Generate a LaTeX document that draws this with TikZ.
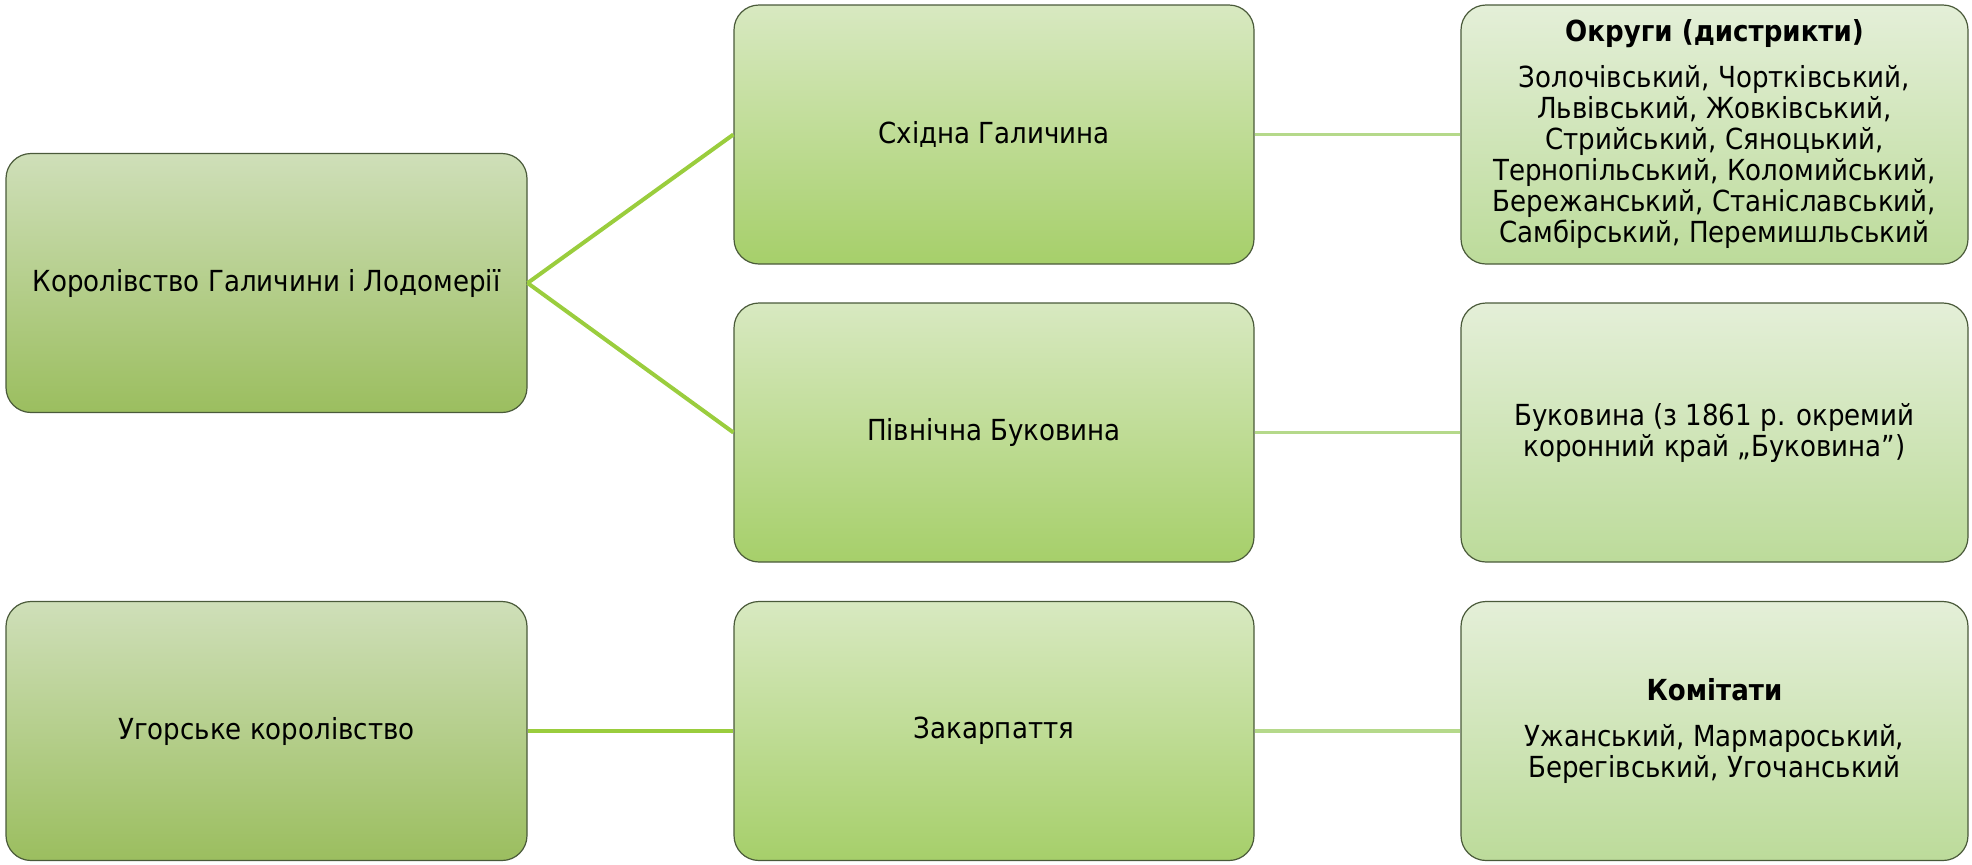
\documentclass[tikz,border=0pt]{standalone}
\usepackage{fontspec}
\setmainfont{DejaVu Sans}[FakeStretch=0.9]
\definecolor{lTop}{HTML}{CFDFB9}
\definecolor{lBot}{HTML}{9BBE5F}
\definecolor{mTop}{HTML}{D8E9C1}
\definecolor{mBot}{HTML}{A6CF6A}
\definecolor{rTop}{HTML}{E4EFD8}
\definecolor{rBot}{HTML}{BCDB9A}
\definecolor{edge}{HTML}{4A5A3A}
\definecolor{conA}{HTML}{9ACD3D}
\definecolor{conB}{HTML}{B5D98A}
\tikzset{
  box/.style={draw=edge, line width=0.6pt, rounded corners=12.5pt, align=center,
    minimum height=129.5pt, inner sep=0pt,
    font=\fontsize{14.5}{15.5}\selectfont},
  lbox/.style={box, minimum width=260.5pt, top color=lTop, bottom color=lBot},
  mbox/.style={box, minimum width=260pt, top color=mTop, bottom color=mBot},
  rbox/.style={box, minimum width=253.5pt, top color=rTop, bottom color=rBot},
  conn/.style={line width=2pt, conA},
  connlight/.style={line width=1.8pt, conB}
}
\begin{document}
\begin{tikzpicture}[x=0.5pt, y=-0.5pt]
\useasboundingbox (0,0) rectangle (1972,864);
\node[lbox] (A) at (266.5,283) {Королівство Галичини і Лодомерії};
\node[mbox] (B) at (994,134.5) {Східна Галичина};
\node[rbox] (C) at (1714.5,134.5) {\textbf{Округи (дистрикти)}\\[7.5pt]Золочівський, Чортківський,\\Львівський, Жовківський,\\Стрийський, Сяноцький,\\Тернопільський, Коломийський,\\Бережанський, Станіславський,\\Самбірський, Перемишльський};
\node[mbox] (D) at (994,432.5) {Північна Буковина};
\node[rbox] (E) at (1714.5,432.5) {Буковина (з 1861 р. окремий\\коронний край „Буковина”)};
\node[lbox] (F) at (266.5,731) {Угорське королівство};
\node[mbox] (G) at (994,731) {Закарпаття};
\node[rbox] (H) at (1714.5,731) {\textbf{Комітати}\\[7.5pt]Ужанський, Мармароський,\\Берегівський, Угочанський};
\draw[conn] (A.east) -- (B.west);
\draw[conn] (A.east) -- (D.west);
\draw[connlight] (B.east) -- (C.west);
\draw[connlight] (D.east) -- (E.west);
\draw[conn] (F.east) -- (G.west);
\draw[connlight] (G.east) -- (H.west);
\end{tikzpicture}
\end{document}
